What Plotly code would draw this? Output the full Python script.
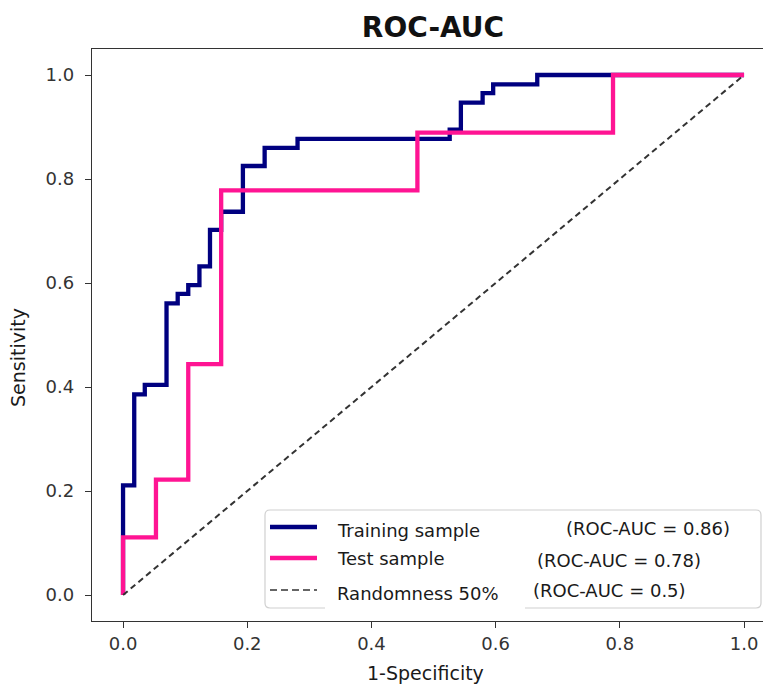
import plotly.graph_objects as go

# ---------------- data ----------------
fpr_train = [0, 0, 0.018, 0.035, 0.070, 0.088, 0.105, 0.123, 0.140, 0.158, 0.193, 0.228, 0.281,
             0.526, 0.544, 0.579, 0.596, 0.667, 1.0]
tpr_train = [0, 0.211, 0.386, 0.404, 0.561, 0.579, 0.596, 0.632, 0.702, 0.737, 0.825, 0.860, 0.877,
             0.895, 0.947, 0.965, 0.982, 1.0, 1.0]

fpr_test = [0, 0, 0.053, 0.105, 0.158, 0.474, 0.789, 1.0]
tpr_test = [0, 0.111, 0.222, 0.444, 0.778, 0.889, 1.0, 1.0]

rand_x = [0, 1]
rand_y = [0, 1]

series_names = ["Training sample", "Test sample", "Randomness 50%"]
auc_labels = ["(ROC-AUC = 0.86)", "(ROC-AUC = 0.78)", "(ROC-AUC = 0.5)"]
tick_vals = [0.0, 0.2, 0.4, 0.6, 0.8, 1.0]
tick_text = ["0.0", "0.2", "0.4", "0.6", "0.8", "1.0"]

title_text = "ROC-AUC"
x_title = "1-Specificity"
y_title = "Sensitivity"

# ---------------- styling ----------------
NAVY = "#000080"
PINK = "#FF1493"
DASH = "#333333"
W, H = 763, 684
L, R, T, B = 92, 763, 49, 621  # plot area in page pixels


def pxx(p):
    return (p - L) / (R - L)


def pxy(p):
    return (B - p) / (B - T)


fig = go.Figure()
fig.add_trace(go.Scatter(x=fpr_train, y=tpr_train, mode="lines", line_shape="hv",
                         line=dict(color=NAVY, width=4.3), name=series_names[0], showlegend=False))
fig.add_trace(go.Scatter(x=fpr_test, y=tpr_test, mode="lines", line_shape="hv",
                         line=dict(color=PINK, width=4.3), name=series_names[1], showlegend=False))
fig.add_trace(go.Scatter(x=rand_x, y=rand_y, mode="lines",
                         line=dict(color=DASH, width=2, dash="6px,4px"), name=series_names[2],
                         showlegend=False))

tick_font = dict(family="DejaVu Sans", size=18, color="#333333")
fig.update_xaxes(range=[-0.05, -0.05 + (R - L) / 621.0], tickvals=tick_vals, ticktext=tick_text,
                 showgrid=False, zeroline=False, showline=True, linecolor="#333333", linewidth=1.3,
                 mirror=True, ticks="outside", ticklen=6, tickwidth=1.2, tickcolor="#333333",
                 tickfont=tick_font)
fig.update_yaxes(range=[-0.05, 1.05], tickvals=tick_vals, ticktext=tick_text,
                 showgrid=False, zeroline=False, showline=True, linecolor="#333333", linewidth=1.3,
                 mirror=False, ticks="outside", ticklen=6, tickwidth=1.2, tickcolor="#333333",
                 tickfont=tick_font, ticklabelstandoff=7)

# ---------------- legend (drawn manually) ----------------
lx0, lx1, ly0, ly1 = 265, 761, 510, 608
r = 5
rx, ry = r / (R - L), r / (B - T)
x0, x1, y0, y1 = pxx(lx0), pxx(lx1), pxy(ly1), pxy(ly0)
path = (f"M {x0+rx},{y0} L {x1-rx},{y0} Q {x1},{y0} {x1},{y0+ry} L {x1},{y1-ry} "
        f"Q {x1},{y1} {x1-rx},{y1} L {x0+rx},{y1} Q {x0},{y1} {x0},{y1-ry} L {x0},{y0+ry} "
        f"Q {x0},{y0} {x0+rx},{y0} Z")
shapes = [
    dict(type="path", path=path, xref="paper", yref="paper", fillcolor="white",
         line=dict(color="#d0d0d0", width=1.2), layer="above"),
    dict(type="rect", xref="paper", yref="paper", x0=pxx(325), x1=pxx(525), y0=pxy(613), y1=pxy(583),
         fillcolor="white", line=dict(width=0), layer="above"),
    dict(type="line", xref="paper", yref="paper", x0=pxx(270), x1=pxx(317), y0=pxy(527), y1=pxy(527),
         line=dict(color=NAVY, width=4.3), layer="above"),
    dict(type="line", xref="paper", yref="paper", x0=pxx(270), x1=pxx(317), y0=pxy(558), y1=pxy(558),
         line=dict(color=PINK, width=4.3), layer="above"),
    dict(type="line", xref="paper", yref="paper", x0=pxx(270), x1=pxx(317), y0=pxy(590), y1=pxy(590),
         line=dict(color=DASH, width=1.6, dash="7px,4px"), layer="above"),
]

leg_font = dict(family="DejaVu Sans", size=18, color="#1a1a1a")
annotations = []
for name, ypos in zip(series_names, [530, 558, 593]):
    annotations.append(dict(text=name, xref="paper", yref="paper", x=pxx(335), y=pxy(ypos),
                            xanchor="left", yanchor="middle", showarrow=False, font=leg_font))
for lab, xpos, ypos in zip(auc_labels, [564, 535, 531], [528, 560, 590]):
    annotations.append(dict(text=lab, xref="paper", yref="paper", x=pxx(xpos), y=pxy(ypos),
                            xanchor="left", yanchor="middle", showarrow=False, font=leg_font))

lab_font = dict(family="DejaVu Sans", size=19, color="#1a1a1a")
annotations.append(dict(text=x_title, xref="paper", yref="paper", x=pxx(425), y=pxy(673),
                        xanchor="center", yanchor="middle", showarrow=False, font=lab_font))
annotations.append(dict(text=y_title, xref="paper", yref="paper", x=pxx(18), y=pxy(358),
                        xanchor="center", yanchor="middle", showarrow=False, textangle=-90,
                        font=lab_font))

fig.update_layout(
    width=W, height=H, autosize=False,
    margin=dict(l=L, r=W - R, t=T, b=H - B, pad=0),
    paper_bgcolor="white", plot_bgcolor="white",
    title=dict(text=f"<b>{title_text}</b>", x=433 / W, xref="container", xanchor="center",
               y=1 - 27 / H, yref="container", yanchor="middle",
               font=dict(family="DejaVu Sans", size=28, color="#111111")),
    shapes=shapes, annotations=annotations, showlegend=False,
)

fig.write_html("out.html", config={"displayModeBar": False},
               post_script="document.body.style.margin='0';document.body.style.overflow='hidden';")
